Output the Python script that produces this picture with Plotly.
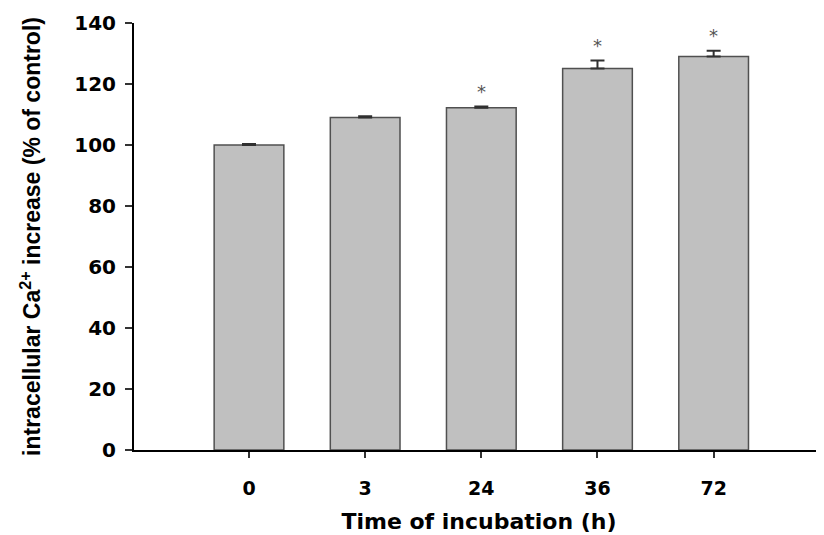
import plotly.graph_objects as go

categories = ["0", "3", "24", "36", "72"]
values = [100.0, 109.0, 112.2, 125.1, 129.0]
errors = [0.3, 0.4, 0.4, 2.6, 1.9]
significant = [False, False, True, True, True]
y_ticks = [0, 20, 40, 60, 80, 100, 120, 140]

xpos = list(range(len(categories)))
font_family = "DejaVu Sans, Verdana, sans-serif"
title_family = "Liberation Sans, Arial, sans-serif"

fig = go.Figure()
fig.add_trace(go.Bar(
    x=xpos, y=values, width=0.6,
    marker=dict(color="#c0c0c0", line=dict(color="#505050", width=1.5)),
    error_y=dict(type="data", array=errors, arrayminus=[0]*len(errors),
                 symmetric=False, color="#303030", thickness=2, width=7),
    showlegend=False,
))

for i, (v, e, s) in enumerate(zip(values, errors, significant)):
    if s:
        fig.add_annotation(x=i, y=v + e, text="*", showarrow=False,
                           yanchor="bottom", yshift=3,
                           font=dict(size=18, color="#555555", family=font_family))

# page body has an 8px margin, so the figure is offset by 8px
fig.update_layout(
    width=816, height=527,
    margin=dict(l=126, r=0, t=15, b=85),
    plot_bgcolor="white", paper_bgcolor="white",
    font=dict(family=font_family, color="black"),
)
fig.update_xaxes(
    range=[-0.99, 4.95], tickvals=xpos, ticktext=categories,
    showline=True, linecolor="black", linewidth=2,
    ticks="outside", ticklen=6, tickwidth=2, tickcolor="#333",
    tickfont=dict(size=19, family=font_family, weight="bold"),
    ticklabelstandoff=14,
    showgrid=False, zeroline=False,
    title=dict(text="<b>Time of incubation (h)</b>", font=dict(size=22), standoff=16),
)
fig.update_yaxes(
    range=[0, 140], tickvals=y_ticks,
    showline=True, linecolor="black", linewidth=2,
    ticks="outside", ticklen=7, tickwidth=2, tickcolor="#333",
    tickfont=dict(size=20, family=font_family, weight="bold"),
    ticklabelstandoff=5,
    showgrid=False, zeroline=False,
    title=dict(text="<b>intracellular Ca<sup>2+</sup> increase (% of control)</b>",
               font=dict(size=23, family=title_family), standoff=27),
)

fig.write_html("out.html")
